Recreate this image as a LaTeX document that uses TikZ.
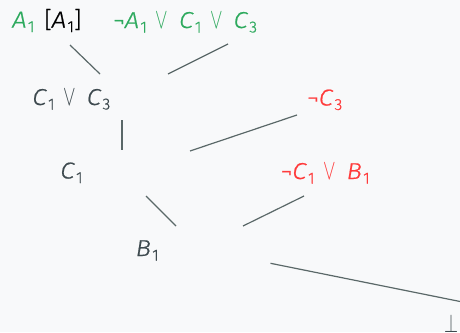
\documentclass[tikz,border=0pt]{standalone}
\usepackage{fontspec}
\setmainfont{Fira Sans}[UprightFont=* Light, ItalicFont=* Light Italic,
  UprightFeatures={FakeBold=0.7}, ItalicFeatures={FakeStretch=1.12,FakeBold=0.7}]
\definecolor{bgc}{HTML}{F8F9FA}
\definecolor{txt}{HTML}{3E4A4F}
\definecolor{grn}{HTML}{2EAA5E}
\definecolor{rdd}{HTML}{FF3B3B}
\definecolor{edgec}{HTML}{5A6868}
% literal with a lowered index
\newcommand{\lit}[2]{\textit{#1}\hspace{1.2pt}\raisebox{-4.5pt}{\fontsize{16}{16}\selectfont #2}}
% disjunction sign, as tall as a capital
\newcommand{\orr}{\hspace{9pt}\resizebox{12.5pt}{16pt}{$\vee$}\hspace{10.5pt}}
\newcommand{\nott}{¬}
\begin{document}
\begin{tikzpicture}[x=1pt,y=-1pt,
  lbl/.style={anchor=base west,inner sep=0pt,font=\fontsize{23}{26}\selectfont},
  link/.style={draw=edgec,line width=1.2pt}]
\fill[bgc] (0,0) rectangle (460,332);
\useasboundingbox (0,0) rectangle (460,332);
% clauses
\node[lbl,text=grn] (a1) at (12,27.5) {\lit{A}{1}\hspace{10pt}\textcolor{black}{[\lit{A}{1}]}};
\node[lbl,text=grn] (cl1) at (113,28) {\nott\lit{A}{1}\orr\lit{C}{1}\orr\lit{C}{3}};
\node[lbl,text=txt] (c1c3) at (32,105) {\lit{C}{1}\orr\lit{C}{3}};
\node[lbl,text=rdd] (nc3) at (307,105.5) {\nott\lit{C}{3}};
\node[lbl,text=txt] (c1) at (60,178.5) {\lit{C}{1}};
\node[lbl,text=rdd] (nc1b1) at (280.5,179) {\nott\lit{C}{1}\orr\lit{B}{1}};
\node[lbl,text=txt] (b1) at (135.5,256) {\lit{B}{1}};
\node[lbl,text=txt,anchor=base] (bot) at (451,332.5) {\resizebox{14pt}{18pt}{$\bot$}};
% edge end points
\coordinate (e1a) at (70,45);   \coordinate (e1b) at (100,74);
\coordinate (e2a) at (228,44);  \coordinate (e2b) at (168,74);
\coordinate (e3a) at (122,120); \coordinate (e3b) at (122,150);
\coordinate (e4a) at (297,115); \coordinate (e4b) at (190,151);
\coordinate (e5a) at (146,196); \coordinate (e5b) at (176,226);
\coordinate (e6a) at (304,196); \coordinate (e6b) at (243,226);
\coordinate (e7a) at (270.5,263.3); \coordinate (e7b) at (470,303.5);
\draw[link] (e1a) -- (e1b);
\draw[link] (e2a) -- (e2b);
\draw[link] (e3a) -- (e3b);
\draw[link] (e4a) -- (e4b);
\draw[link] (e5a) -- (e5b);
\draw[link] (e6a) -- (e6b);
\draw[link] (e7a) -- (e7b);
\end{tikzpicture}
\end{document}
